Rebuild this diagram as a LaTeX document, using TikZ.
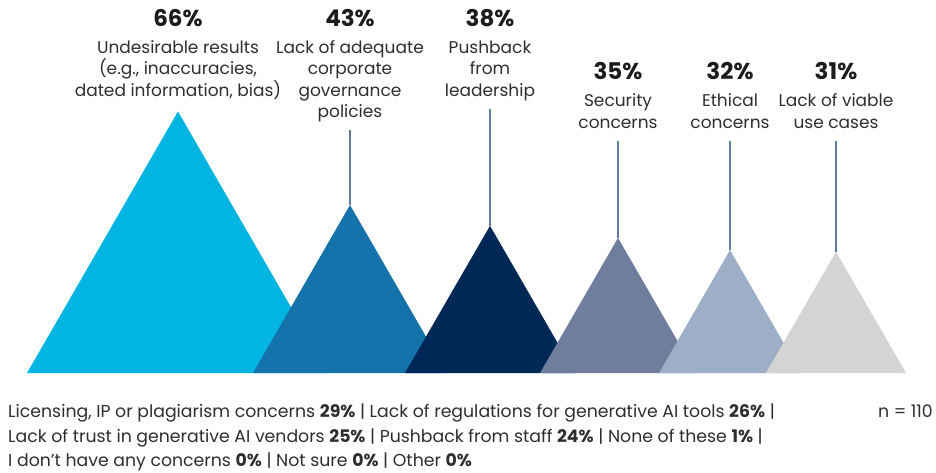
\documentclass[tikz,border=0pt]{standalone}
\usepackage{fontspec}
\setmainfont{Poppins}
\usetikzlibrary{calc}

\definecolor{tri1}{HTML}{00B5E2}
\definecolor{tri2}{HTML}{1473AB}
\definecolor{tri3}{HTML}{002856}
\definecolor{tri4}{HTML}{6E7E9C}
\definecolor{tri5}{HTML}{9DAFC7}
\definecolor{tri6}{HTML}{D4D4D4}
\definecolor{stemblue}{HTML}{5F7BA0}
\definecolor{txtgray}{HTML}{2E2E2E}
\definecolor{pctgray}{HTML}{1C1C1C}

\begin{document}
\begin{tikzpicture}[x=1pt, y=1pt,
  pct/.style={font=\fontsize{23}{26}\selectfont\bfseries, text=pctgray, inner sep=0pt, anchor=base},
  lbl/.style={font=\fontsize{17}{21.5}\selectfont, text=txtgray, align=center, inner sep=0pt, text depth=5pt, anchor=base},
  note/.style={font=\fontsize{17.3}{24}\selectfont, text=txtgray, inner sep=0pt, anchor=base west},
  stem/.style={draw=stemblue, line width=1.6pt, shorten <=7.5pt}]
\useasboundingbox (0,-99) rectangle (936,373);

%triangles, biggest first so each one sits over the one before
\fill[tri1] (27,0) -- ++(60:302) coordinate (top1) -- ++(-60:302) -- cycle;
\fill[tri2] (253,0) -- ++(60:194) coordinate (top2) -- ++(-60:194) -- cycle;
\fill[tri3] (405,0) -- ++(60:170) coordinate (top3) -- ++(-60:170) -- cycle;
\fill[tri4] (540,0) -- ++(60:156) coordinate (top4) -- ++(-60:156) -- cycle;
\fill[tri5] (659,0) -- ++(60:142) coordinate (top5) -- ++(-60:142) -- cycle;
\fill[tri6] (766,0) -- ++(60:140) coordinate (top6) -- ++(-60:140) -- cycle;

%percentages
\node[pct] (pct1) at (178,346) {66\%};
\node[pct] (pct2) at (350,346) {43\%};
\node[pct] (pct3) at (490,346) {38\%};
\node[pct] (pct4) at (618,293) {35\%};
\node[pct] (pct5) at (730,293) {32\%};
\node[pct] (pct6) at (836,293) {31\%};

%answer texts (placed on the baseline of their last line)
\node[lbl] (lbl1) at (178,276.7) {Undesirable results\\(e.g., inaccuracies,\\dated information, bias)};
\node[lbl] (lbl2) at (350,255.2) {Lack of adequate\\corporate\\governance\\policies};
\node[lbl] (lbl3) at (490,276.7) {Pushback\\from\\leadership};
\node[lbl] (lbl4) at (618,244.8) {Security\\concerns};
\node[lbl] (lbl5) at (730,244.8) {Ethical\\concerns};
\node[lbl] (lbl6) at (836,244.8) {Lack of viable\\use cases};

%stems down to the apexes
\draw[stem] (lbl2) -- (top2);
\draw[stem] (lbl3) -- (top3);
\draw[stem] (lbl4) -- (top4);
\draw[stem] (lbl5) -- (top5);
\draw[stem] (lbl6) -- (top6);

%other answers
\node[note] (note1) at (8,-44) {Licensing, IP or plagiarism concerns \textbf{29\%} | Lack of regulations for generative AI tools \textbf{26\%} |};
\node[note] (note2) at (8,-69) {Lack of trust in generative AI vendors \textbf{25\%} | Pushback from staff \textbf{24\%} | None of these \textbf{1\%} |};
\node[note] (note3) at (8,-93) {I don’t have any concerns \textbf{0\%} | Not sure \textbf{0\%} | Other \textbf{0\%}};
\node[note, anchor=base east] (nsize) at (933,-44) {n = 110};
\end{tikzpicture}
\end{document}
